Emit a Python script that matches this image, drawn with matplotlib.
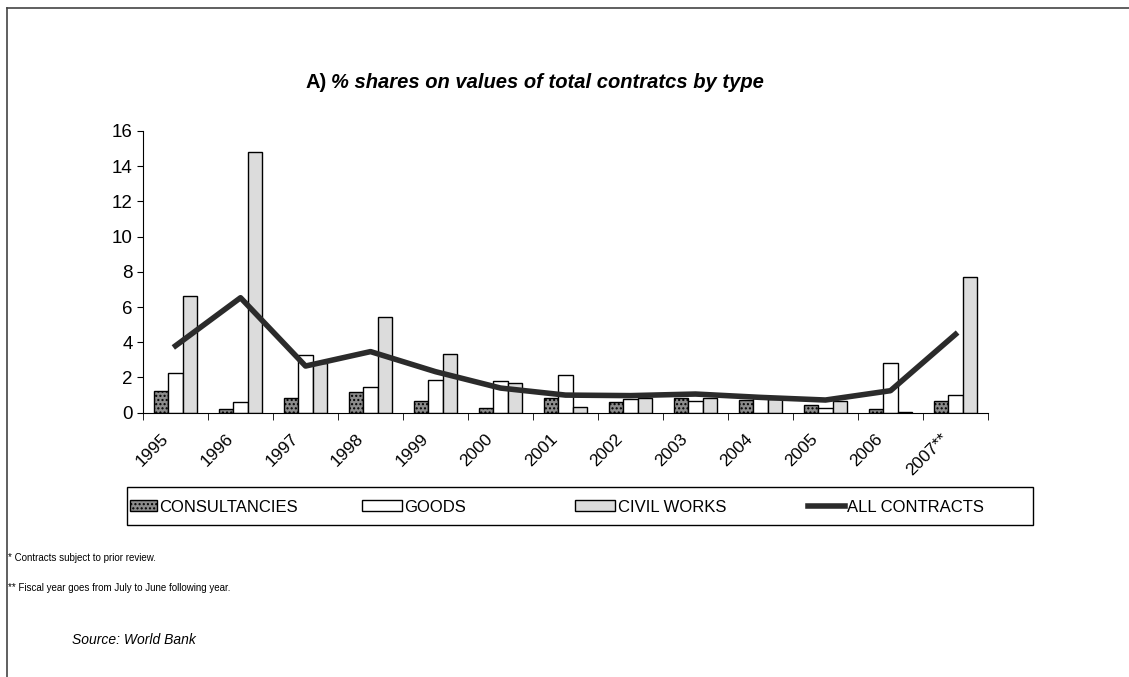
import numpy as np
import matplotlib
matplotlib.use("Agg")
import matplotlib.pyplot as plt
import matplotlib.transforms as mtransforms
from matplotlib.lines import Line2D
from matplotlib.patches import Rectangle

plt.rcParams['font.family'] = ['Liberation Sans', 'DejaVu Sans']
plt.rcParams['hatch.color'] = '#444444'

years = ["1995", "1996", "1997", "1998", "1999", "2000", "2001",
         "2002", "2003", "2004", "2005", "2006", "2007**"]
consultancies = [1.25, 0.2, 0.81, 1.19, 0.66, 0.28, 0.81, 0.62, 0.81, 0.72, 0.44, 0.21, 0.68]
goods = [2.23, 0.62, 3.28, 1.48, 1.86, 1.8, 2.14, 0.78, 0.66, 0.81, 0.25, 2.84, 1.0]
civil_works = [6.6, 14.8, 2.8, 5.45, 3.33, 1.67, 0.3, 0.81, 0.85, 0.76, 0.68, 0.06, 7.7]
all_contracts = [3.8, 6.53, 2.65, 3.47, 2.33, 1.4, 1.0, 0.97, 1.06, 0.87, 0.72, 1.25, 4.45]

W, H = 1129, 677
fig = plt.figure(figsize=(W / 100, H / 100), dpi=100)
ax = fig.add_axes([0.1267, 0.3904, 0.7484, 0.4161])

x = np.arange(len(years))
w = 0.225
b1 = ax.bar(x - w, consultancies, w, color='#8c8c8c', edgecolor='black', linewidth=1.0,
            hatch='....', label='CONSULTANCIES')
b2 = ax.bar(x, goods, w, color='white', edgecolor='black', linewidth=1.0, label='GOODS')
b3 = ax.bar(x + w, civil_works, w, color='#dcdcdc', edgecolor='black', linewidth=1.0,
            label='CIVIL WORKS')
ln, = ax.plot(x, all_contracts, color='#2b2b2b', linewidth=4, label='ALL CONTRACTS', zorder=5)

ax.set_xlim(-0.5, len(years) - 0.5)
ax.set_ylim(0, 16)
ax.set_yticks(range(0, 17, 2))
ax.tick_params(axis='y', labelsize=13.5, length=4, direction='out')

ax.set_xticks(x)
ax.set_xticklabels(years, rotation=45, ha='right', va='center', rotation_mode='anchor',
                   fontsize=12.5)
ax.tick_params(axis='x', length=0, pad=17)
shift = mtransforms.ScaledTranslation(-10 / 100, 0, fig.dpi_scale_trans)
for lab in ax.get_xticklabels():
    lab.set_transform(lab.get_transform() + shift)
ax.set_xticks(np.arange(-0.5, len(years)), minor=True)
ax.tick_params(axis='x', which='minor', length=5)

for s in ['top', 'right']:
    ax.spines[s].set_visible(False)

# title
fig.text(305 / W, 1 - 83 / H, "A)", fontsize=14.5, fontweight='bold', ha='left', va='center')
fig.text(331 / W, 1 - 83 / H, "% shares on values of total contratcs by type", fontsize=14.5,
         fontweight='bold', fontstyle='italic', ha='left', va='center')

# legend box with entries at their own positions
fig.add_artist(Rectangle((127 / W, 1 - 525 / H), (1033 - 127) / W, 38 / H,
                         transform=fig.transFigure, fill=False, edgecolor='black',
                         linewidth=1.0))
entries = [(b1, 'CONSULTANCIES', 130, 1.6), (b2, 'GOODS', 362, 2.4),
           (b3, 'CIVIL WORKS', 575, 2.4), (ln, 'ALL CONTRACTS', 808, 2.2)]
for h, lab, x0, hl in entries:
    fig.legend([h], [lab], loc='center left', bbox_to_anchor=(x0 / W, 1 - 507 / H),
               fontsize=12, frameon=False, handlelength=hl, handleheight=0.6,
               handletextpad=0.15, borderpad=0, borderaxespad=0)

fig.text(8 / W, 1 - 558 / H, "* Contracts subject to prior review.", fontsize=7, va='center')
fig.text(8 / W, 1 - 588 / H, "** Fiscal year goes from July to June following year.",
         fontsize=7, va='center')
fig.text(72 / W, 1 - 640 / H, "Source: World Bank", fontsize=10, fontstyle='italic',
         va='center')

fig.add_artist(Line2D([7 / W, 1.0], [1 - 8 / H, 1 - 8 / H], color='#444444', linewidth=1.2))
fig.add_artist(Line2D([7 / W, 7 / W], [0.0, 1 - 8 / H], color='#444444', linewidth=1.2))

fig.savefig("out.png", dpi=100)
